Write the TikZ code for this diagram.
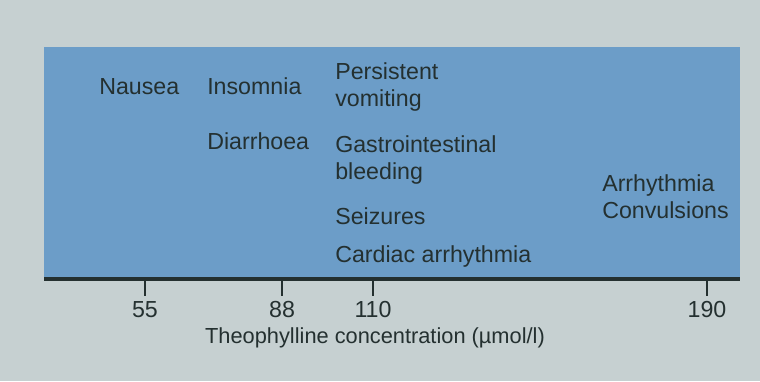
\documentclass[tikz,border=0pt]{standalone}
\usepackage{fontspec}
\setmainfont{Liberation Sans}
\usetikzlibrary{positioning}
\definecolor{pagegray}{HTML}{C6D0D1}
\definecolor{bandblue}{HTML}{6C9DC8}
\definecolor{inkgray}{HTML}{243030}
\tikzset{
  sym/.style={anchor=base west, inner sep=0pt, align=left, text=inkgray,
              font=\fontsize{16.5}{18.8}\selectfont},
  ticklab/.style={anchor=base, inner sep=0pt, text=inkgray,
                  font=\fontsize{16.5}{18.8}\selectfont},
  axisline/.style={draw=inkgray, line width=2.2pt},
  tickmark/.style={draw=inkgray, line width=1.2pt},
}

\begin{document}
\begin{tikzpicture}[x=0.025cm, y=-0.025cm]
  % page and coloured band
  \fill[pagegray] (0,0) rectangle (760,381);
  \useasboundingbox (0,0) rectangle (760,381);
  \fill[bandblue] (44,47) rectangle (740,279);
  % symptoms (multi-line nodes sit on their last line)
  \node (nau) [sym] at (99,94) {Nausea};
  \node (ins) [sym] at (207,94) {Insomnia};
  \node (dia) [sym] at (207,149) {Diarrhoea};
  \node (vom) [sym] at (335,106) {Persistent\\vomiting};
  \node (gib) [sym] at (335,179) {Gastrointestinal\\bleeding};
  \node (sei) [sym] at (335,224) {Seizures};
  \node (car) [sym] at (335,262) {Cardiac arrhythmia};
  \node (arr) [sym] at (602,218) {Arrhythmia\\Convulsions};
  % axis
  \coordinate (ax0) at (44,279);
  \coordinate (ax1) at (740,279);
  \draw[axisline] (ax0) -- (ax1);
  \foreach \val/\px in {55/145, 88/282, 110/373, 190/707} {
    \coordinate (k\val) at (\px,279);
    \draw[tickmark] (k\val) -- ++(0,17);
    \node (t\val) [ticklab] at (\px,317) {\val};
  }
  \node (ttl) [ticklab, font=\fontsize{15.5}{18}\selectfont] at (375,343)
    {Theophylline concentration (µmol/l)};
\end{tikzpicture}
\end{document}
